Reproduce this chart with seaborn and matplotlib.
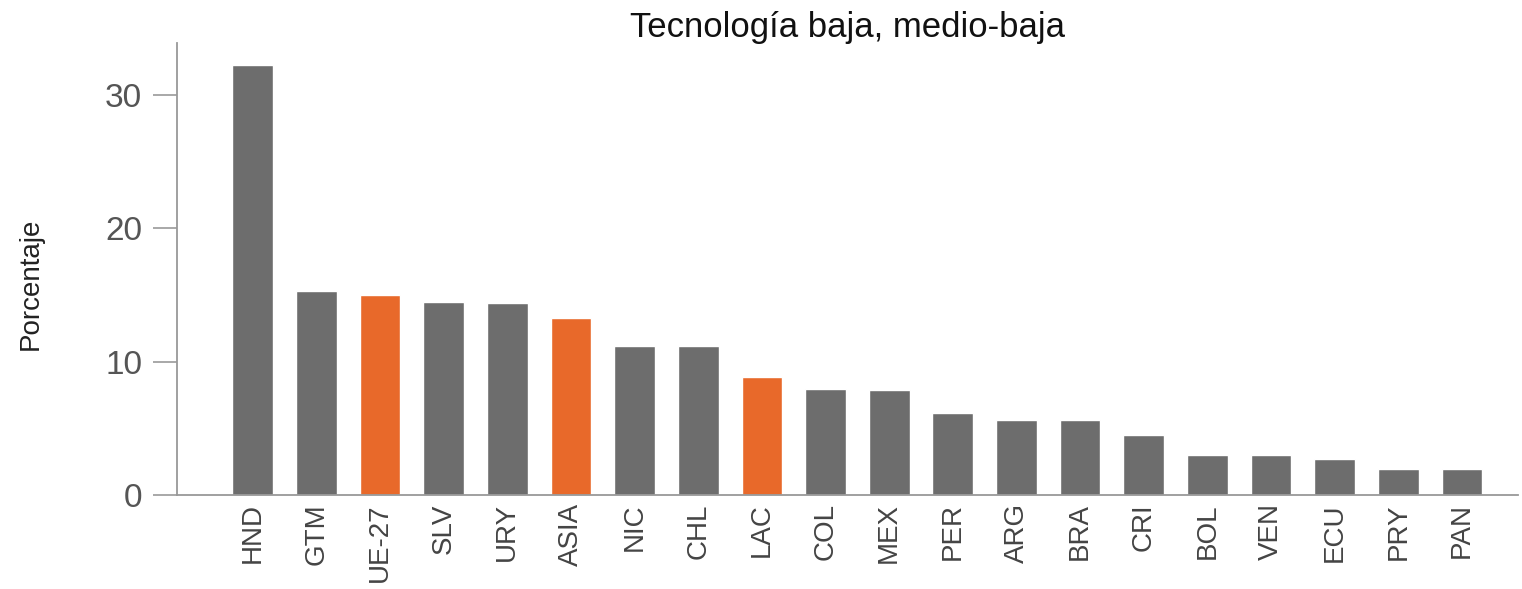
import matplotlib
matplotlib.use("Agg")
import matplotlib.pyplot as plt
import seaborn as sns
import pandas as pd

categories = ["HND", "GTM", "UE-27", "SLV", "URY", "ASIA", "NIC", "CHL", "LAC", "COL",
              "MEX", "PER", "ARG", "BRA", "CRI", "BOL", "VEN", "ECU", "PRY", "PAN"]
values = [32.25, 15.3, 15.0, 14.5, 14.4, 13.3, 11.15, 11.15, 8.85, 7.97,
          7.84, 6.17, 5.6, 5.6, 4.49, 2.98, 2.98, 2.68, 1.98, 1.98]
highlight = ["UE-27", "ASIA", "LAC"]
yticks = [0, 10, 20, 30]
title = "Tecnología baja, medio-baja"
ylabel = "Porcentaje"

GRAY = "#6d6d6d"
ORANGE = "#e8692a"

sns.set_theme(style="white")
plt.rcParams["font.family"] = ["Liberation Sans", "DejaVu Sans"]

df = pd.DataFrame({"cat": categories, "val": values})
palette = {c: (ORANGE if c in highlight else GRAY) for c in categories}

W, H = 1522, 589
fig = plt.figure(figsize=(W / 100, H / 100), dpi=100)
ax = fig.add_axes([177 / W, 1 - 495 / H, (1518 - 177) / W, (495 - 43) / H])
sns.barplot(data=df, x="cat", y="val", hue="cat", palette=palette, legend=False,
            width=0.64, saturation=1, ax=ax)

ax.set_xlim(-1.19, len(categories) - 1 + 0.88)
ax.set_ylim(0, 33.9)
ax.set_yticks(yticks)
ax.set_yticklabels([str(t) for t in yticks], fontsize=24, color="#555555")
ax.tick_params(axis="y", direction="out", length=17, width=1.2, color="#999999", pad=8, left=True)
ax.tick_params(axis="x", length=0, pad=6)
ax.set_xticks(range(len(categories)))
ax.set_xticklabels(categories, rotation=90, fontsize=20, color="#444444")

for side in ["top", "right"]:
    ax.spines[side].set_visible(False)
for side in ["left", "bottom"]:
    ax.spines[side].set_color("#999999")
    ax.spines[side].set_linewidth(1.3)

ax.set_xlabel("")
ax.set_ylabel(ylabel, fontsize=20, color="#222222")
ax.yaxis.set_label_coords((44 - 177) / (1518 - 177), (495 - 284) / (495 - 43))
ax.set_title(title, fontsize=25, color="#111111", pad=4)

fig.savefig("out.png", dpi=100, facecolor="white")
